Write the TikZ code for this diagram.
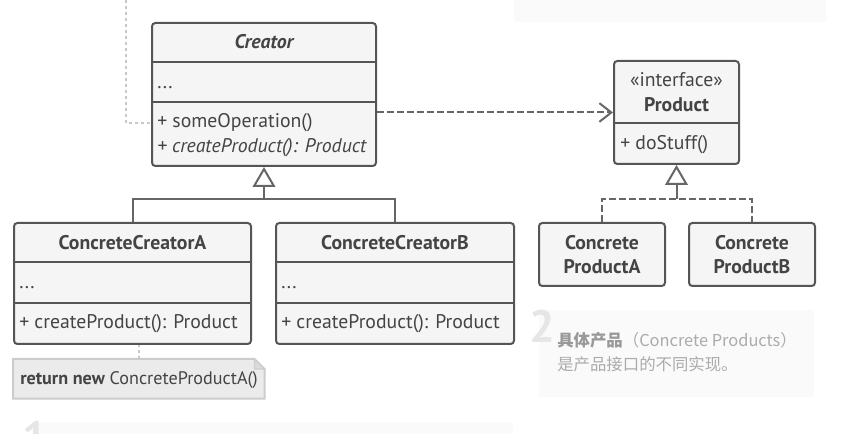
\documentclass[tikz,border=0pt]{standalone}
\usepackage{fontspec}
\setmainfont{PT Sans}
\newfontfamily\cjk{Noto Sans CJK SC}
\usetikzlibrary{arrows.meta,positioning,calc}

\newdimen\upx
\upx=0.75pt
\newcommand\umlsize{\fontsize{14.8}{18}\selectfont}

\definecolor{umlline}{HTML}{555555}
\definecolor{umlfill}{HTML}{F5F5F5}
\definecolor{umltext}{HTML}{444444}
\definecolor{connline}{HTML}{666666}
\definecolor{notefill}{HTML}{EBEBEB}
\definecolor{noteline}{HTML}{CCCCCC}
\definecolor{panelfill}{HTML}{FAFAFA}
\definecolor{faintline}{HTML}{C8C8C8}
\definecolor{hintnum}{HTML}{E6E6E6}
\definecolor{hintbold}{HTML}{999999}
\definecolor{hintlight}{HTML}{ABABAB}

\tikzset{
  classbox/.style={draw=umlline, line width=1.5pt, fill=umlfill, rounded corners=2.5pt, anchor=north west, inner sep=0pt},
  divider/.style={draw=umlline, line width=1.5pt},
  member/.style={anchor=base west, inner sep=0pt},
  heading/.style={anchor=base, inner sep=0pt},
  panel/.style={fill=panelfill, anchor=north west, inner sep=0pt},
  conn/.style={draw=connline, line width=1.5pt},
  dashconn/.style={conn, dash pattern=on 5pt off 2.5pt},
  inherit/.style={conn, -{Triangle[open, fill=white, length=15pt, width=17pt, line width=1.5pt]}},
  faintlink/.style={draw=faintline, line width=1.5pt, dash pattern=on 2pt off 2.5pt},
  hintnumber/.style={text=hintnum, anchor=north west, inner sep=0pt, font=\fontsize{34}{34}\selectfont\bfseries},
}

\begin{document}
\begin{tikzpicture}[x=\upx, y=-\upx, font=\umlsize, text=umltext]
\useasboundingbox (0,0) rectangle (854,434);

% faint panels of the surrounding page
\node[panel, minimum width=312\upx, minimum height=22\upx] (topPanel) at (514,0) {};
\node[panel, minimum width=275\upx, minimum height=87\upx] (hintPanel) at (539,310) {};
\node[panel, minimum width=478\upx, minimum height=20\upx] (lowPanel) at (35,422) {};
\node[hintnumber] (hintTwo) at (529,310) {2};
\node[hintnumber] (hintOne) at (22,421) {1};
\node[anchor=base west, inner sep=0pt, font=\cjk\fontsize{12.3}{18}\selectfont, text=hintlight] (hintHead) at (557,347)
  {{\color{hintbold}\bfseries 具体产品}（Concrete Products）};
\node[anchor=base west, inner sep=0pt, font=\cjk\fontsize{12.3}{18}\selectfont, text=hintlight] (hintBody) at (557,371)
  {是产品接口的不同实现。};

% Creator
\node[classbox, minimum width=224\upx, minimum height=143\upx] (cr) at (151,22) {};
\draw[divider] (cr.north west) ++(0,40) -- ++(224,0) ++(-224,40) -- ++(224,0);
\node[heading] (crName) at (cr.north |- 0,49) {\bfseries\itshape Creator};
\node[member] (crAttr) at (157,89) {...};
\node[member] (crOp) at (157,128) {+ someOperation()};
\node[member] (crFactory) at (157,153) {\itshape + createProduct(): Product};

% client link
\coordinate (clientTop) at (126,0);
\draw[faintlink] (clientTop) |- (cr.west |- crOp.west);

% Product
\node[classbox, minimum width=125\upx, minimum height=103\upx] (prod) at (613,60) {};
\draw[divider] (prod.north west) ++(0,63) -- ++(125,0);
\node[heading] (prodStereo) at (prod.north |- 0,87) {«interface»};
\node[heading] (prodName) at (prod.north |- 0,112) {\bfseries Product};
\node[member] (prodOp) at (620,150) {+ doStuff()};

% ConcreteCreatorA
\node[classbox, minimum width=237\upx, minimum height=121\upx] (cca) at (13,222) {};
\draw[divider] (cca.north west) ++(0,40) -- ++(237,0) ++(-237,41) -- ++(237,0);
\node[heading] (ccaName) at (cca.north |- 0,250) {\bfseries ConcreteCreatorA};
\node[member] (ccaAttr) at (19,289) {...};
\node[member] (ccaFactory) at (19,329) {+ createProduct(): Product};

% ConcreteCreatorB
\node[classbox, minimum width=238\upx, minimum height=121\upx] (ccb) at (275,222) {};
\draw[divider] (ccb.north west) ++(0,40) -- ++(238,0) ++(-238,41) -- ++(238,0);
\node[heading] (ccbName) at (ccb.north |- 0,250) {\bfseries ConcreteCreatorB};
\node[member] (ccbAttr) at (281,289) {...};
\node[member] (ccbFactory) at (281,329) {+ createProduct(): Product};

% concrete products
\node[classbox, minimum width=126\upx, minimum height=63\upx] (cpa) at (538,222) {};
\node[align=center, font=\umlsize\bfseries] (cpaName) at (cpa.center) {Concrete\\ProductA};
\node[classbox, minimum width=126\upx, minimum height=63\upx] (cpb) at (688,222) {};
\node[align=center, font=\umlsize\bfseries] (cpbName) at (cpb.center) {Concrete\\ProductB};

% note
\node[anchor=north west, inner sep=0pt, minimum width=251\upx, minimum height=39\upx] (note) at (13,359) {};
\draw[fill=notefill, draw=noteline, line width=1.5pt] (note.north west) -- ([xshift=-7.5pt]note.north east)
  -- ([yshift=-7.5pt]note.north east) -- (note.south east) -- (note.south west) -- cycle;
\draw[draw=noteline, fill=noteline!70, line width=1pt] ([xshift=-7.5pt]note.north east) |- ([yshift=-7.5pt]note.north east) -- cycle;
\node[member, font=\fontsize{13.6}{16}\selectfont] (noteText) at (20,385) {{\bfseries return new} ConcreteProductA()};
\draw[faintlink] (note.north) -- (note.north |- cca.south);

% connectors
\path (cr.south) ++(0,32) coordinate (crBus);
\draw[conn] (cca.north) |- (crBus) -| (ccb.north);
\draw[inherit] (crBus) -- (cr.south);
\path (prod.south) ++(0,34) coordinate (prodBus);
\draw[dashconn] (cpa.north) |- (prodBus) -| (cpb.north);
\draw[inherit] (prodBus) -- (prod.south);
\draw[dashconn, -{Straight Barb[length=9pt, width=14pt, line width=1.5pt]}] (cr.east |- prod.west) -- (prod.west);
\end{tikzpicture}
\end{document}
